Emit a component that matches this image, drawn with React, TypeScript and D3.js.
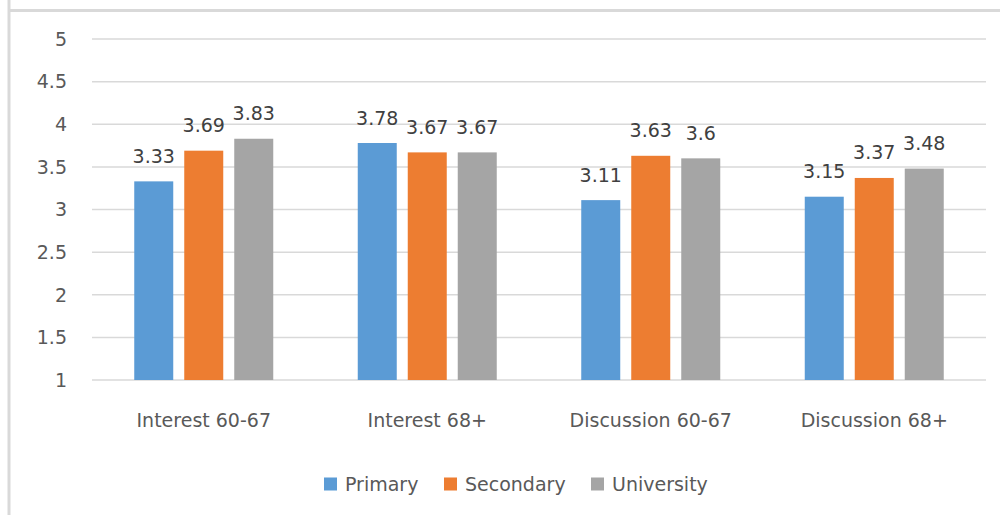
import * as d3 from "d3";

const categories = ["Interest 60-67", "Interest 68+", "Discussion 60-67", "Discussion 68+"];
const seriesNames = ["Primary", "Secondary", "University"];
const primary = [3.33, 3.78, 3.11, 3.15];
const secondary = [3.69, 3.67, 3.63, 3.37];
const university = [3.83, 3.67, 3.6, 3.48];
const yTicks = [1, 1.5, 2, 2.5, 3, 3.5, 4, 4.5, 5];
const colors = ["#5B9BD5", "#ED7D31", "#A5A5A5"];

const seriesValues = [primary, secondary, university];
const font = "'DejaVu Sans', sans-serif";

export default function App() {
  const width = 1000;
  const height = 515;
  const left = 92;
  const right = 986;
  const top = 39;
  const bottom = 380;

  const x0 = d3.scaleBand().domain(categories).range([left, right]).padding(0);
  const y = d3.scaleLinear().domain([1, 5]).range([bottom, top]);

  const innerHalf = 69.5;
  const x1 = d3
    .scaleBand()
    .domain(seriesNames)
    .range([-innerHalf, innerHalf])
    .paddingInner(0.22)
    .paddingOuter(0);

  const legendX = [324, 444, 591];

  return (
    <svg
      width={width}
      height={height}
      style={{ position: "absolute", left: 0, top: 0, background: "#fff" }}
    >
      <line x1={9} y1={0} x2={9} y2={height} stroke="#D9D9D9" strokeWidth={3} />
      <line x1={8} y1={10.5} x2={width} y2={10.5} stroke="#D9D9D9" strokeWidth={3} />

      {yTicks.map((t) => (
        <g key={t}>
          <line x1={left} x2={right} y1={y(t)} y2={y(t)} stroke="#D9D9D9" strokeWidth={1.5} />
          <text
            x={67}
            y={y(t)}
            dy="0.36em"
            textAnchor="end"
            fontFamily={font}
            fontSize={19}
            fill="#595959"
          >
            {t}
          </text>
        </g>
      ))}

      {categories.map((c, i) => {
        const cx = (x0(c) as number) + x0.bandwidth() / 2;
        return (
          <g key={c}>
            {seriesNames.map((s, j) => {
              const v = seriesValues[j][i];
              const bx = cx + (x1(s) as number);
              return (
                <g key={s}>
                  <rect
                    x={bx}
                    y={y(v)}
                    width={x1.bandwidth()}
                    height={y(1) - y(v)}
                    fill={colors[j]}
                  />
                  <text
                    x={bx + x1.bandwidth() / 2}
                    y={y(v) - 18.5}
                    textAnchor="middle"
                    fontFamily={font}
                    fontSize={19}
                    fill="#404040"
                  >
                    {v}
                  </text>
                </g>
              );
            })}
            <text
              x={cx}
              y={427}
              textAnchor="middle"
              fontFamily={font}
              fontSize={19}
              fill="#595959"
            >
              {c}
            </text>
          </g>
        );
      })}

      {seriesNames.map((s, j) => (
        <g key={s}>
          <rect x={legendX[j]} y={477.5} width={13} height={13} fill={colors[j]} />
          <text
            x={legendX[j] + 21}
            y={484}
            dy="0.36em"
            fontFamily={font}
            fontSize={19}
            fill="#595959"
          >
            {s}
          </text>
        </g>
      ))}
    </svg>
  );
}
